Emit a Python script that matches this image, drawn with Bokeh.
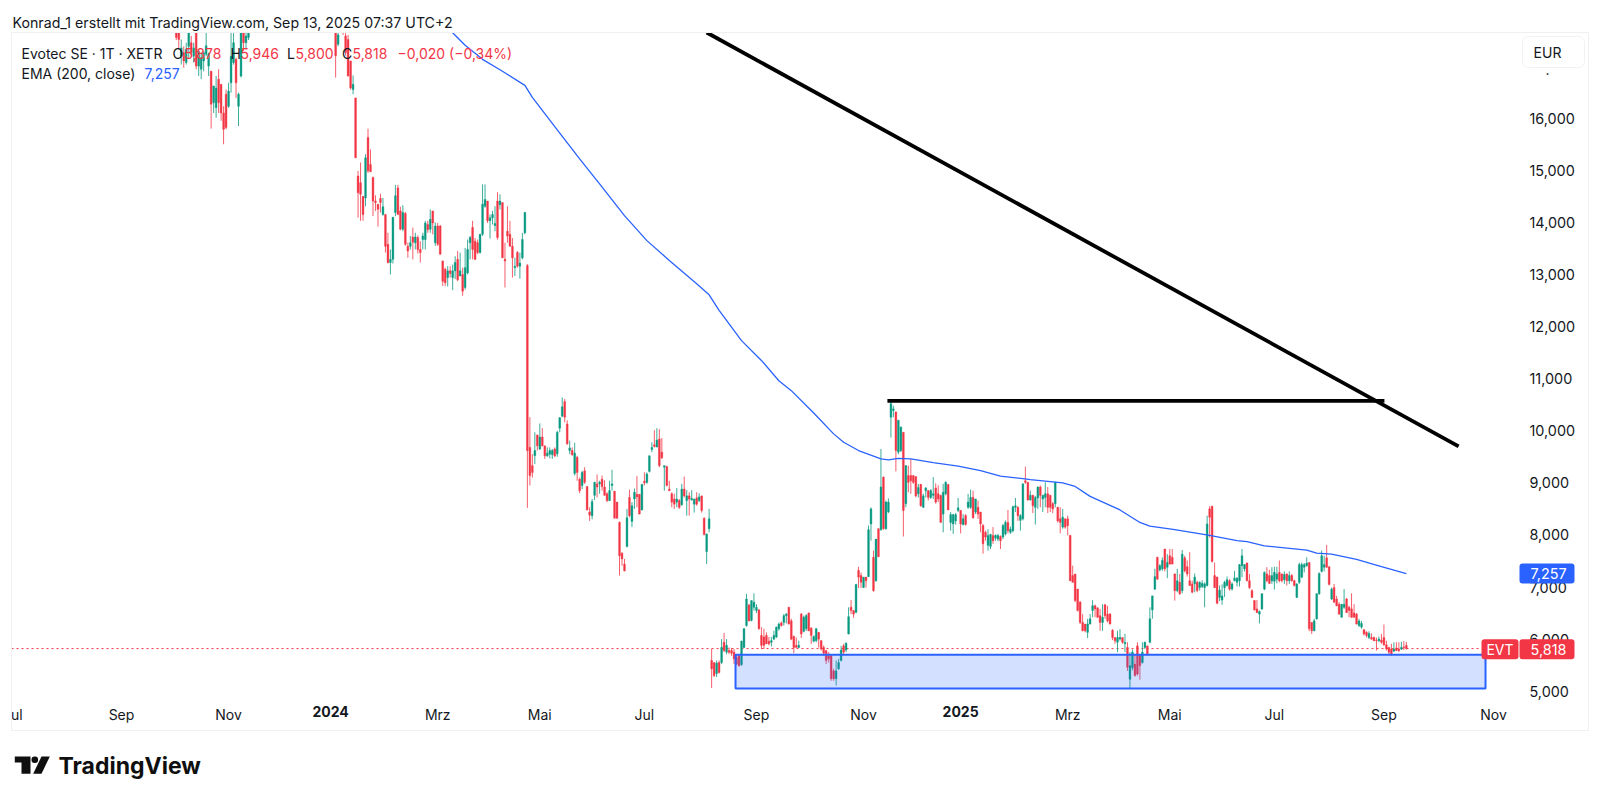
from bokeh.plotting import figure
from bokeh.models import (Range1d, FixedTicker, Label, BoxAnnotation, LinearAxis,
                          PolyAnnotation, ColumnDataSource)
from bokeh.embed import file_html
from bokeh.resources import INLINE

# ---- candles: (open, high, low, close) in EUR ----
first_bar_autumn_2023 = 22
autumn_2023 = [
 (17.9,18,17.5,17.55),(17.9,18,17.32,17.51),(17.19,17.51,17.03,17.35),(17.26,17.38,16.97,17.1),(17.07,17.45,17.03,17.32),
 (17.38,17.9,17.16,17.7),(17.45,17.58,17.19,17.26),(17.19,17.45,17.07,17.35),(17.9,18,16.94,17.0),(17.0,17.32,16.81,17.29),
 (16.94,17.26,16.75,17.16),(17.1,17.29,16.9,17.26),(17.23,17.7,17.19,17.39),(17.0,17.26,16.81,17.23),(16.9,16.91,15.8,16.27),
 (16.3,16.62,16.1,16.62),(16.2,16.81,16.01,16.58),(16.75,16.94,16.1,16.3),(16.65,16.65,15.95,16.1),(16.1,16.23,15.5,15.79),
 (16.46,16.55,15.79,15.82),(16.23,16.68,16.2,16.52),(16.68,17.7,16.49,17.19),(17.07,17.7,17.03,17.45),(17.13,17.16,16.39,16.68),
 (16.23,16.49,15.85,16.46),(16.81,17.8,16.78,17.7),(17.75,17.9,17.29,17.45),(17.45,17.8,17.32,17.58),(17.55,17.9,17.5,17.7),
]
first_bar_spring_2024 = 86
spring_2024 = [
 (17.9,18,16.78,17.2),(17.42,17.8,17.38,17.6),(17.95,18,17.7,17.8),(17.9,18,17.6,17.7),(17.58,17.9,17.2,17.26),
 (17.51,17.6,16.8,16.81),(17.1,17.1,16.55,16.58),(16.55,16.82,16.46,16.65),(16.39,16.39,15.24,15.24),(14.89,14.99,14.09,14.57),
 (14.76,15.15,14.03,14.54),(14.5,14.5,14.03,14.15),(14.47,15.31,14.31,15.24),(15.63,15.8,14.95,14.99),(15.11,15.4,14.97,14.97),
 (14.86,14.88,14.12,14.41),(14.41,14.52,14.22,14.38),(14.35,14.35,13.92,14.25),(14.46,14.55,14.19,14.38),(14.15,14.47,14.13,14.3),
 (14.15,14.15,13.42,13.54),(13.58,13.8,13.21,13.23),(13.23,13.48,13.0,13.29),(13.29,14.1,13.21,14.1),(14.19,14.72,14.12,14.51),
 (14.66,14.72,14.15,14.15),(14.22,14.3,13.85,13.87),(13.87,14.33,13.83,14.19),(14.17,14.2,13.55,13.58),(13.54,13.61,13.32,13.45),
 (13.54,13.74,13.48,13.61),(13.72,13.9,13.29,13.62),(13.61,13.8,13.48,13.72),(13.71,13.75,13.4,13.48),(13.48,13.64,13.23,13.42),
 (13.67,13.8,13.48,13.74),(13.67,14.03,13.48,13.99),(13.96,14.03,13.8,13.86),(13.87,14.25,13.8,14.06),(14.22,14.22,13.77,13.99),
 (13.61,14.0,13.55,13.93),(13.93,13.99,13.55,13.58),(13.93,13.95,13.38,13.39),(13.26,13.26,12.78,12.87),(13.1,13.13,12.78,12.84),
 (12.94,13.16,12.77,13.07),(13.07,13.16,12.94,13.02),(12.94,13.19,12.7,13.07),(13.07,13.35,12.91,13.23),(13.29,13.45,12.87,12.9),
 (12.97,13.42,12.97,13.07),(13.0,13.13,12.59,12.68),(12.75,13.51,12.71,13.13),(13.03,13.67,13.0,13.48),(13.61,13.74,13.29,13.71),
 (13.9,14.03,13.29,13.48),(13.64,13.7,13.28,13.29),(13.61,13.67,13.39,13.42),(13.42,13.78,13.4,13.77),(13.77,14.73,13.74,14.35),
 (14.31,14.73,14.28,14.44),(14.41,14.41,13.99,14.03),(14.03,14.15,13.69,14.09),(14.09,14.22,13.96,14.15),(13.94,14.31,13.83,13.98),
 (14.41,14.58,13.67,13.71),(14.34,14.54,14.25,14.41),(14.38,14.38,13.32,13.32),(13.29,13.61,12.75,13.26),(13.83,14.31,13.61,13.74),
 (13.77,14.03,13.54,13.54),(13.54,13.7,12.94,13.32),(13.13,13.32,12.97,13.16),(13.42,13.45,13.13,13.16),(13.16,13.42,12.92,13.22),
 (13.32,13.8,13.29,13.67),(13.8,14.2,13.77,14.19),
]
first_bar_summer_2024 = 163
summer_2024 = [
 (13.17,13.2,8.52,9.62),(9.68,10.26,8.95,9.14),(9.33,9.55,9.1,9.2),(9.52,9.97,9.36,9.62),(9.92,9.92,9.62,9.71),
 (9.65,10.14,9.63,9.88),(9.88,10.05,9.7,9.71),(9.71,9.71,9.46,9.52),(9.52,9.68,9.5,9.57),(9.55,9.68,9.47,9.62),
 (9.54,9.65,9.46,9.62),(9.65,9.68,9.49,9.52),(9.56,10.0,9.5,9.97),(10.05,10.26,9.97,10.25),(10.28,10.64,10.26,10.46),
 (10.56,10.61,10.16,10.26),(10.13,10.2,9.73,9.75),(9.62,9.81,9.55,9.67),(9.62,9.68,9.52,9.54),(9.18,9.77,9.14,9.57),
 (9.49,9.52,9.04,9.2),(9.07,9.1,8.8,8.85),(8.95,9.23,8.88,9.2),(9.23,9.3,8.98,9.01),(8.93,8.93,8.47,8.48),
 (8.44,8.53,8.27,8.38),(8.37,8.69,8.3,8.64),(8.76,9.02,8.67,9.01),(8.98,9.16,8.72,8.92),(8.98,9.04,8.79,9.01),
 (9.07,9.14,8.85,8.93),(8.92,9.05,8.76,8.76),(8.79,8.82,8.63,8.66),(8.66,9.04,8.65,8.85),(8.95,9.25,8.85,8.98),
 (8.84,8.84,8.32,8.32),(8.63,8.63,8.31,8.32),(8.24,8.26,7.22,7.6),(7.65,7.67,7.41,7.54),(7.44,7.54,7.3,7.31),
 (7.78,8.5,7.76,8.33),(8.72,8.87,8.34,8.37),(8.26,8.63,8.15,8.56),(8.69,8.89,8.5,8.82),(8.78,9.13,8.53,8.73),
 (8.78,8.78,8.4,8.4),(8.48,8.98,8.47,8.97),(9.03,9.2,8.95,9.0),(9.01,9.2,8.98,9.17),(9.22,9.52,9.2,9.52),
 (9.64,9.78,9.59,9.68),(9.73,10.01,9.68,9.7),(9.69,10.05,9.68,9.82),(9.84,10.03,9.3,9.33),(9.59,9.86,9.46,9.48),
 (9.3,9.33,8.85,9.33),(9.31,9.33,8.93,8.95),(8.88,9.04,8.84,8.85),(8.79,8.82,8.53,8.63),(8.69,8.79,8.5,8.59),
 (8.63,8.9,8.53,8.69),(8.66,8.69,8.5,8.53),(8.58,8.98,8.56,8.88),(8.88,9.12,8.72,8.75),(8.66,8.86,8.37,8.75),
 (8.75,8.82,8.37,8.69),(8.67,8.86,8.66,8.7),(8.59,8.69,8.43,8.69),(8.71,8.82,8.56,8.59),(8.66,8.8,8.63,8.73),
 (8.75,8.75,8.43,8.47),(8.32,8.34,7.99,8.01),(7.68,8.02,7.44,8.02),(8.12,8.5,8.05,8.31),
]
first_bar_autumn_2024 = 237
autumn_2024 = [
 (5.59,5.81,5.06,5.43),(5.55,5.55,5.27,5.3),(5.34,5.59,5.27,5.54),(5.55,5.59,5.34,5.36),(5.55,6.0,5.52,5.84),
 (5.94,6.12,5.75,5.78),(5.75,6.0,5.71,5.88),(5.78,5.84,5.71,5.75),(5.78,5.83,5.68,5.73),(5.75,5.81,5.52,5.62),
 (5.65,5.7,5.5,5.52),(5.68,5.71,5.47,5.49),(5.51,5.97,5.49,5.96),(5.84,6.21,5.83,6.2),(6.26,6.87,6.24,6.77),
 (6.66,6.66,6.34,6.35),(6.36,6.74,6.34,6.74),(6.61,6.88,6.55,6.71),(6.55,6.67,6.5,6.61),(6.56,6.58,6.18,6.2),
 (6.07,6.23,5.81,5.88),(6.04,6.2,5.81,5.88),(6.07,6.13,5.91,5.91),(5.96,6.04,5.88,5.91),(5.94,6.04,5.86,5.97),
 (6.0,6.16,5.98,6.07),(6.04,6.24,6.02,6.23),(6.2,6.32,6.16,6.29),(6.31,6.34,6.24,6.26),(6.32,6.48,6.26,6.45),
 (6.45,6.5,6.3,6.48),(6.61,6.62,6.28,6.29),(6.35,6.39,5.98,6.0),(6.05,6.07,5.73,5.84),(5.88,6.03,5.84,5.84),
 (5.84,5.97,5.83,5.88),(6.48,6.5,6.02,6.1),(6.15,6.45,6.13,6.42),(6.2,6.48,6.16,6.45),(6.5,6.51,6.15,6.16),
 (6.21,6.23,5.91,6.07),(5.96,6.07,5.94,6.05),(5.97,6.21,5.94,6.2),(6.13,6.13,5.84,6.0),(5.97,5.98,5.78,5.81),
 (5.84,5.88,5.68,5.73),(5.78,5.78,5.52,5.59),(5.68,5.75,5.55,5.62),(5.68,5.7,5.2,5.24),(5.39,5.43,5.2,5.24),
 (5.24,5.59,5.11,5.39),(5.43,5.62,5.41,5.55),(5.59,5.87,5.57,5.79),(5.87,5.91,5.71,5.75),(5.79,5.94,5.75,5.92),
 (6.1,6.61,6.09,6.43),(6.61,6.75,6.48,6.55),(6.55,6.55,6.41,6.48),(6.51,7.06,6.51,7.05),(7.32,7.39,6.98,7.19),
 (7.22,7.28,6.98,7.09),(6.99,7.19,6.98,7.19),(7.19,7.19,6.99,7.12),(7.2,8.18,7.19,8.1),(8.21,8.53,7.89,8.5),
 (7.57,7.7,6.91,6.93),(7.12,7.92,7.1,7.92),(8.12,8.12,7.58,7.58),(8.1,9.65,8.08,8.92),(9.11,9.12,8.1,8.12),
 (8.12,8.66,8.1,8.63),(8.44,8.7,8.42,8.63),
]
first_bar_winter_2024 = 309
winter_2024 = [
 (10.26,10.59,9.87,10.52),(10.39,10.48,10.26,10.42),(10.36,10.37,9.22,9.62),(9.59,10.21,9.55,10.2),(9.62,10.08,9.59,10.07),
 (9.97,9.97,7.97,8.47),(8.6,9.34,8.53,9.33),(9.14,9.33,8.82,9.01),(9.14,9.46,8.79,9.04),(9.14,9.14,8.98,9.01),
 (9.12,9.12,8.72,8.75),(8.79,8.98,8.72,8.91),(8.97,8.98,8.54,8.56),(8.53,8.79,8.52,8.75),(8.85,8.92,8.72,8.9),
 (8.85,8.86,8.66,8.72),(8.72,8.88,8.69,8.85),(8.76,9.11,8.69,8.79),(8.9,8.99,8.6,8.63),(8.79,8.95,8.63,8.69),
 (8.76,8.77,8.24,8.24),(8.4,8.98,8.05,8.82),(8.79,9.03,8.76,9.01),(8.97,8.97,8.48,8.48),(8.24,8.44,8.08,8.39),
 (8.21,8.4,8.02,8.39),(8.27,8.42,8.2,8.39),(8.47,8.71,8.44,8.52),(8.47,8.47,8.03,8.21),(8.2,8.4,8.18,8.31),
 (8.37,8.4,8.18,8.2),(8.53,8.79,8.5,8.63),(8.53,8.87,8.5,8.72),(8.72,8.85,8.31,8.33),(8.44,8.69,8.4,8.69),
 (8.53,8.66,8.31,8.4),(8.44,8.44,8.05,8.21),(8.18,8.21,7.64,7.83),(8.05,8.08,7.89,7.96),(7.8,8.11,7.7,7.99),
 (7.78,8.02,7.73,8.01),(7.99,8.15,7.83,7.89),(7.94,8.01,7.89,7.99),(7.92,8.02,7.88,7.99),(7.97,7.99,7.73,7.89),
 (7.96,8.21,7.92,8.18),(8.02,8.28,7.99,8.24),(8.24,8.48,8.03,8.08),(8.05,8.16,8.02,8.11),(8.08,8.56,8.05,8.54),
 (8.53,8.71,8.44,8.56),(8.53,8.55,8.27,8.37),(8.28,8.4,8.08,8.37),(8.31,8.99,8.28,8.98),(9.04,9.31,8.98,9.01),
 (9.01,9.01,8.66,8.67),(8.67,8.85,8.66,8.76),(8.76,8.77,8.42,8.56),(8.53,8.75,8.2,8.72),(8.71,8.93,8.5,8.92),
 (8.92,8.95,8.53,8.76),(8.69,8.77,8.44,8.76),(8.72,9.01,8.53,8.79),(8.79,8.92,8.42,8.53),(8.76,8.77,8.44,8.53),
 (8.6,8.63,8.42,8.5),(8.6,9.02,8.53,9.01),(8.53,8.54,8.24,8.27),(8.31,8.53,8.03,8.24),(8.15,8.5,8.12,8.34),
 (8.31,8.31,8.12,8.15),(8.31,8.37,7.99,8.18),(7.99,8.0,7.12,7.12),
]
first_bar_spring_2025 = 382
spring_2025 = [
 (7.22,7.41,7.09,7.09),(7.25,7.25,6.71,6.74),(6.96,6.96,6.53,6.55),(6.71,6.73,6.29,6.32),(6.32,6.48,6.15,6.16),
 (6.29,6.29,6.13,6.16),(6.13,6.39,6.02,6.29),(6.29,6.48,6.28,6.39),(6.55,6.75,6.42,6.64),(6.64,6.66,6.42,6.58),
 (6.6,6.61,6.41,6.42),(6.45,6.58,6.16,6.32),(6.32,6.67,6.16,6.42),(6.66,6.67,6.39,6.45),(6.48,6.64,6.32,6.35),
 (6.48,6.5,6.28,6.29),(6.17,6.19,5.98,6.03),(6.03,6.03,5.91,5.97),(5.94,6.16,5.75,6.03),(6.0,6.19,5.97,6.03),
 (6.03,6.03,5.91,5.94),(5.91,6.1,5.75,5.94),(5.84,5.94,5.39,5.46),(5.23,5.75,5.06,5.49),(5.45,5.8,5.4,5.75),
 (5.52,5.71,5.28,5.3),(5.87,5.94,5.3,5.33),(5.68,5.71,5.22,5.49),(5.55,5.94,5.53,5.75),(5.84,5.95,5.81,5.94),
 (5.87,5.87,5.68,5.71),(5.94,6.61,5.92,6.39),(6.56,6.83,6.39,6.83),(6.96,7.35,6.94,7.2),(7.57,7.58,7.14,7.15),
 (7.33,7.44,7.3,7.41),(7.35,7.57,7.31,7.51),(7.73,7.73,7.3,7.35),(7.38,7.63,7.17,7.47),(7.6,7.73,7.43,7.44),
 (7.57,7.73,7.44,7.44),(7.25,7.26,6.74,6.93),(6.93,7.35,6.9,7.12),(7.09,7.25,6.85,6.87),(6.93,7.71,6.88,7.63),
 (7.56,7.6,7.28,7.31),(7.39,7.51,7.2,7.25),(7.12,7.67,7.02,7.03),(7.06,7.12,6.88,6.9),(7.06,7.26,6.9,7.19),
 (7.09,7.12,6.9,6.93),(6.99,7.11,6.93,7.09),(7.01,7.13,6.98,7.07),(6.99,7.09,6.61,7.06),(7.03,8.37,7.01,8.21),
 (8.5,8.55,7.95,8.34),(8.55,8.56,7.47,7.49),(7.22,7.47,6.98,6.99),(7.19,7.2,6.67,6.69),
]
first_bar_summer_2025 = 441
summer_2025 = [
 (6.8,7.03,6.73,6.94),(6.75,7.05,6.66,6.83),(6.99,7.12,6.81,7.09),(7.03,7.2,7.01,7.14),(7.12,7.15,6.93,6.96),
 (6.96,7.09,6.93,7.06),(7.12,7.31,7.11,7.17),(7.09,7.19,7.01,7.17),(7.12,7.44,7.01,7.43),(7.41,7.73,7.19,7.6),
 (7.35,7.44,7.3,7.43),(7.46,7.47,7.11,7.12),(7.12,7.25,6.96,6.99),(6.93,6.96,6.79,6.8),(6.74,6.75,6.55,6.56),
 (6.58,6.75,6.5,6.51),(6.48,6.55,6.3,6.53),(6.58,6.88,6.56,6.87),(6.96,7.3,6.94,7.28),(7.25,7.38,7.09,7.12),
 (7.22,7.33,7.06,7.07),(7.12,7.38,7.06,7.22),(7.11,7.39,6.95,7.28),(7.15,7.39,7.07,7.25),(7.28,7.51,7.09,7.12),
 (7.25,7.26,7.09,7.12),(7.14,7.3,7.06,7.24),(7.25,7.26,7.03,7.12),(7.12,7.3,7.06,7.22),(7.22,7.25,7.1,7.12),
 (7.12,7.14,7.01,7.03),(6.8,7.07,6.79,7.06),(7.09,7.47,7.06,7.43),(7.19,7.47,7.17,7.43),(7.38,7.46,7.28,7.43),
 (7.41,7.57,7.39,7.46),(7.47,7.47,6.15,6.2),(6.32,6.32,6.1,6.16),(6.16,6.39,6.15,6.35),(6.39,6.88,6.37,6.87),
 (6.87,7.28,6.85,7.26),(7.3,7.7,7.28,7.6),(7.38,7.6,7.3,7.43),(7.56,7.81,7.37,7.38),(7.39,7.39,7.03,7.05),
 (6.77,6.99,6.75,6.96),(6.99,7.06,6.69,6.71),(6.77,6.83,6.63,6.64),(6.67,6.71,6.47,6.48),(6.42,6.67,6.41,6.67),
 (6.61,6.96,6.58,6.67),(6.77,6.79,6.5,6.51),(6.61,6.64,6.42,6.55),(6.58,6.88,6.41,6.42),(6.5,6.67,6.41,6.42),
 (6.48,6.5,6.28,6.29),(6.26,6.39,6.23,6.35),(6.23,6.35,6.2,6.3),(6.18,6.19,6.07,6.1),(6.13,6.15,6.03,6.07),
 (6.03,6.15,6.0,6.11),(6.03,6.11,5.99,6.0),(6.03,6.05,5.96,5.97),(5.98,6.03,5.78,5.97),(5.97,6.05,5.94,6.0),
 (5.98,6.1,5.91,5.94),(6.03,6.28,5.87,5.89),(5.89,5.97,5.78,5.81),(5.84,5.85,5.71,5.75),(5.81,5.91,5.68,5.72),
 (5.77,5.94,5.75,5.81),(5.83,5.94,5.77,5.78),(5.81,5.94,5.75,5.78),(5.81,5.95,5.79,5.84),(5.85,5.96,5.79,5.838),
 (5.878,5.946,5.8,5.818),
]
eras = [(first_bar_autumn_2023, autumn_2023), (first_bar_spring_2024, spring_2024),
        (first_bar_summer_2024, summer_2024), (first_bar_autumn_2024, autumn_2024),
        (first_bar_winter_2024, winter_2024), (first_bar_spring_2025, spring_2025),
        (first_bar_summer_2025, summer_2025)]

# EMA(200): bar number, value
ema_bars = [133,138,145,152,162,165,174,184,192,202,211,220,231,236,240,249,257,264,269,278,286,290,296,305,308,312,317,326,336,345,353,362,365,378,383,389,401,409,413,423,437,448,452,459,476,480,486,496,506,516]
ema_vals = [17.64,17.40,17.13,16.93,16.63,16.40,15.84,15.22,14.74,14.13,13.65,13.27,12.82,12.61,12.31,11.73,11.35,10.96,10.77,10.34,9.94,9.78,9.62,9.46,9.44,9.47,9.46,9.39,9.32,9.235,9.13,9.08,9.06,9.0,8.93,8.74,8.48,8.24,8.17,8.10,7.99,7.89,7.87,7.79,7.71,7.65,7.63,7.53,7.39,7.257]

# Drawings
trend_bars = [235, 537]
trend_vals = [17.645, 9.70]
resistance_bars = [307.6, 507.2]
resistance_vals = [10.575, 10.575]
zone_bars = (246.6, 547.8)
zone_vals = (5.05, 5.70)
last_price = 5.818
last_ema = 7.257

# Axes
y_ticks = [5,6,7,8,9,10,11,12,13,14,15,16]
y_tick_labels = ["5,000","6,000","7,000","8,000","9,000","10,000","11,000","12,000","13,000","14,000","15,000","16,000"]
x_ticks = [-42,0,43,127,168,210,255,298,380,421,463,507,551]
x_tick_labels = ["ul","Sep","Nov","Mrz","Mai","Jul","Sep","Nov","Mrz","Mai","Jul","Sep","Nov"]
year_ticks = [84,337]
year_labels = ["2024","2025"]

RED, GREEN, BLUE, INK = "#f23645", "#089981", "#2962ff", "#131722"
FONT = "Inter"
W, H = 1596, 797

def X(px): return (px - 121) / 2.49
def Y(py): return 5 + (690.7 - py) / 52.09

rows = {"x": [], "o": [], "h": [], "l": [], "c": [], "top": [], "bot": [], "col": []}
for start, era in eras:
    for k, (o, h, l, c) in enumerate(era):
        rows["x"].append(start + k)
        rows["o"].append(o); rows["h"].append(h); rows["l"].append(l); rows["c"].append(c)
        rows["top"].append(max(o, c)); rows["bot"].append(min(o, c))
        rows["col"].append(GREEN if c >= o else RED)
src = ColumnDataSource(rows)

# The plot frame fills the page; the axes are pinned at the pane's edges.
p = figure(width=W, height=H, output_backend="svg", toolbar_location=None,
           x_range=Range1d(X(0), X(W)), y_range=Range1d(Y(H), Y(0)),
           y_axis_location="right", min_border_left=0, min_border_right=0,
           min_border_top=0, min_border_bottom=0, outline_line_color=None,
           background_fill_color="white", border_fill_color="white")
p.grid.visible = False

p.yaxis.ticker = FixedTicker(ticks=y_ticks)
p.yaxis.major_label_overrides = dict(zip(y_ticks, y_tick_labels))
p.xaxis.ticker = FixedTicker(ticks=x_ticks)
p.xaxis.major_label_overrides = dict(zip(x_ticks, x_tick_labels))
p.xaxis.fixed_location = Y(700)
p.yaxis.fixed_location = X(1519)

year_axis = LinearAxis(fixed_location=Y(700), ticker=FixedTicker(ticks=year_ticks),
                       major_label_overrides=dict(zip(year_ticks, year_labels)),
                       major_label_text_font_style="bold")
p.add_layout(year_axis, "below")

for ax in (p.xaxis[0], p.yaxis[0], year_axis):
    ax.axis_line_color = None
    ax.major_tick_line_color = None
    ax.minor_tick_line_color = None
    ax.major_tick_out = 0
    ax.major_tick_in = 0
    ax.minor_tick_out = 0
    ax.major_label_text_font = FONT
    ax.major_label_text_font_size = "14px"
    ax.major_label_text_color = INK
p.yaxis.major_label_text_font_size = "14.4px"
p.yaxis.major_label_standoff = 10
p.xaxis.major_label_standoff = 5

p.line([X(11), X(1481)], [last_price, last_price], line_color=RED, line_width=1, line_dash=[2, 3])
p.segment("x", "h", "x", "l", source=src, line_color="col", line_width=1, line_alpha=0.8)
p.vbar("x", 0.72, "top", "bot", source=src, fill_color="col", line_color="col", line_width=0.4)
p.line(ema_bars, ema_vals, line_color=BLUE, line_width=1.3)
p.quad(left=[zone_bars[0]], right=[zone_bars[1]], bottom=[zone_vals[0]], top=[zone_vals[1]],
       fill_color=BLUE, fill_alpha=0.2, line_color=BLUE, line_width=2)
p.line(trend_bars, trend_vals, line_color="black", line_width=3.8)
p.line(resistance_bars, resistance_vals, line_color="black", line_width=3.8)

# Furniture
def box(l, r, t, b, fill, line=None, radius=0):
    p.add_layout(BoxAnnotation(left=X(l), right=X(r), top=Y(t), bottom=Y(b), fill_color=fill,
                               fill_alpha=1 if fill else 0, line_color=line, line_width=1, border_radius=radius,
                               line_alpha=1 if line else 0, level="overlay", editable=False))

def text(t, px, py, color=INK, size="14px", style="normal", align="left"):
    p.add_layout(Label(x=X(px), y=Y(py), text=t, text_color=color, text_font=FONT,
                       text_font_size=size, text_font_style=style, text_align=align,
                       text_baseline="middle", level="overlay"))

box(0, W, 0, 31.5, "white")                 # the pane's top edge hides what lies above it
box(11, 1588, 32, 730, None, "#f0f0f0")
box(1481, 1518, 638.7, 658.7, RED, None, 3)
box(1519, 1574, 638.7, 658.7, RED, None, 3)
box(1519, 1574, 563, 583, BLUE, None, 3)
box(1522, 1584, 36, 67, "white", "#f2f2f2", 6)

text("Konrad_1 erstellt mit TradingView.com, Sep 13, 2025 07:37 UTC+2", 12, 21.5, size="14.2px")
text("Evotec SE · 1T · XETR", 21, 52.7)
text("O", 172, 52.7)
text("5,878", 184, 52.7, RED)
text("H", 230, 52.7)
text("5,946", 240, 52.7, RED)
text("L", 286.5, 52.7)
text("5,800", 295, 52.7, RED)
text("C", 341.6, 52.7)
text("5,818", 352, 52.7, RED)
text("−0,020 (−0,34%)", 397, 52.7, RED)
text("EMA (200, close)", 21, 72.7)
text("7,257", 144, 72.7, BLUE)
text("EUR", 1547, 52, align="center")
text(".", 1547, 69, align="center")
text("EVT", 1499.5, 648.7, "white", align="center")
text("5,818", 1548, 648.7, "white", size="14.4px", align="center")
text("7,257", 1548, 573, "white", size="14.4px", align="center")
text("TradingView", 58, 765.5, "#0f0f0f", "23px", "bold")

p.add_layout(PolyAnnotation(xs=[X(v) for v in (14.3, 30, 30, 21, 21, 14.3)],
                            ys=[Y(v) for v in (756, 756, 773.3, 773.3, 762, 762)],
                            fill_color="#0f0f0f", fill_alpha=1, line_color=None, level="overlay", editable=False))
p.add_layout(PolyAnnotation(xs=[X(v) for v in (41, 49.3, 41, 32.7)],
                            ys=[Y(v) for v in (756, 756, 773.3, 773.3)],
                            fill_color="#0f0f0f", fill_alpha=1, line_color=None, level="overlay", editable=False))
p.add_layout(BoxAnnotation(left=X(31), right=X(37.6), top=Y(756), bottom=Y(762.6), fill_color="#0f0f0f",
                           fill_alpha=1, line_color=None, border_radius=3, level="overlay"))

open("out.html", "w").write(file_html(p, INLINE))
